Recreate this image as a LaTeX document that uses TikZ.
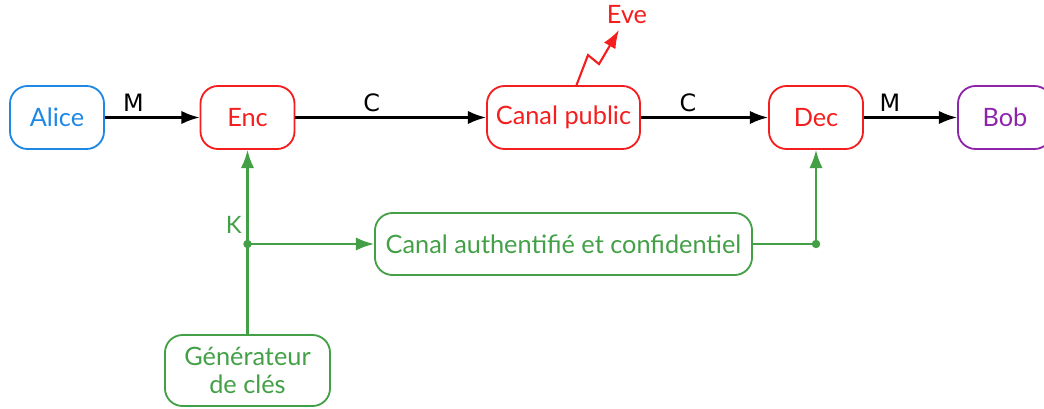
\documentclass[tikz,border=0pt]{standalone}
\usepackage{fontspec}
\setmainfont{Lato}
\newfontfamily\msgfont{DejaVu Sans}
\usetikzlibrary{arrows.meta,calc,positioning}

\definecolor{alicecol}{HTML}{1E88E5}
\definecolor{cryptcol}{HTML}{F41E1E}
\definecolor{bobcol}{HTML}{8E24AA}
\definecolor{keycol}{HTML}{43A047}

\begin{document}
\begin{tikzpicture}[
                x=0.025cm, y=-0.025cm,
                >={Latex[length=13pt,width=9.5pt]},
                every node/.style={font=\fontsize{18}{20}\selectfont,align=center},
                party/.style={draw, rounded corners=12.5pt, line width=1.3pt, inner sep=0pt,
                              minimum width=2.35cm, minimum height=1.575cm},
                flow/.style={draw, line width=1.5pt},
                msg/.style={font=\msgfont\fontsize{17}{19}\selectfont, above, pos=#1},
                junction/.style={circle, fill=keycol, inner sep=0pt, minimum size=6pt}
            ]
            \useasboundingbox (0,0) rectangle (1044,408);

            % the parties and the boxes of the scheme
            \node[party, draw=alicecol, text=alicecol] (alice) at (57,117.5) {Alice};
            \node[party, draw=cryptcol, text=cryptcol] (enc) at (247.5,117.5) {Enc};
            \node[party, draw=cryptcol, text=cryptcol, minimum width=3.825cm] (canal) at (563.5,117.5) {Canal public};
            \node[party, draw=cryptcol, text=cryptcol] (dec) at (816,117.5) {Dec};
            \node[party, draw=bobcol, text=bobcol] (bob) at (1005,117.5) {Bob};
            \node[party, draw=keycol, text=keycol, minimum width=9.425cm, minimum height=1.55cm] (auth) at (563.5,244) {Canal authentifi\'e et confidentiel};
            \node[party, draw=keycol, text=keycol, minimum width=4.125cm, minimum height=1.775cm] (gen) at (247.5,370.5) {G\'en\'erateur\\de cl\'es};
            \node[text=cryptcol] (eve) at (627,15) {Eve};
            \coordinate (evetip) at (619,30);

            % message path
            \draw[flow,->] (alice) -- node[msg=0.3] {M} (enc);
            \draw[flow,->] (enc) -- node[msg=0.4] {C} (canal);
            \draw[flow,->] (canal) -- node[msg=0.37] {C} (dec);
            \draw[flow,->] (dec) -- node[msg=0.28] {M} (bob);

            % eavesdropper
            \draw[flow,->,draw=cryptcol] ($(canal.north)+(13,0)$) -- ++(11.5,-30) -- ++(11,9) -- (evetip);

            % key distribution
            \node[junction] (k1) at (enc |- auth) {};
            \node[junction] (k2) at (dec |- auth) {};
            \draw[flow,draw=keycol] (gen.north) -- (k1.center);
            \draw[flow,->,draw=keycol] (k1.center) -- node[left, pos=0.2, text=keycol, font=\fontsize{17}{19}\selectfont] {K} (enc.south);
            \draw[flow,->,draw=keycol] (k1.center) -- (auth.west);
            \draw[flow,->,draw=keycol] (auth.east) -- (k2.center) -- (dec.south);
        \end{tikzpicture}
\end{document}
